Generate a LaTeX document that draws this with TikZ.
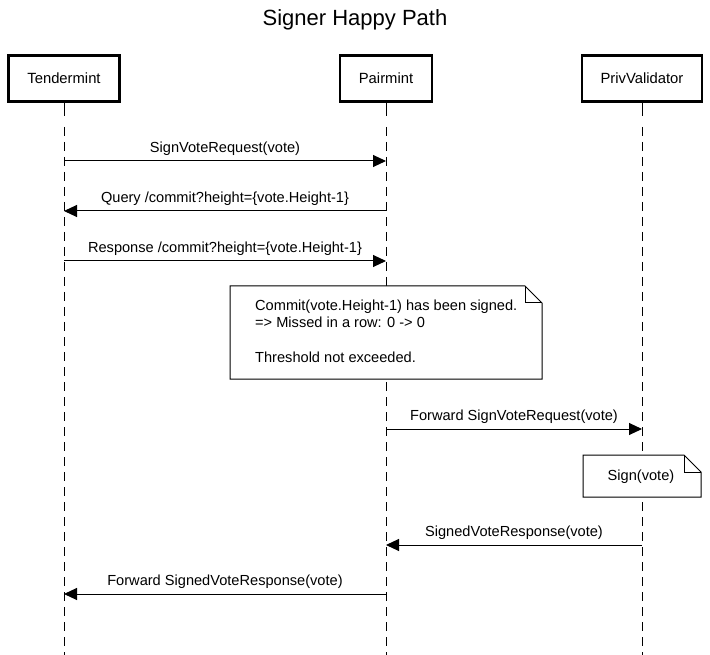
\documentclass[tikz,border=0pt]{standalone}
\usepackage{fontspec}
\setmainfont{Liberation Sans}
\usetikzlibrary{arrows.meta,calc}
\begin{document}
\begin{tikzpicture}[x=1pt,y=-1pt,
  actor/.style={draw,line width=2.6pt,minimum height=46pt,inner sep=0pt,font=\fontsize{14.8}{17}\selectfont},
  life/.style={line width=1pt,dash pattern=on 9pt off 6pt},
  lifesolid/.style={line width=1pt},
  msg/.style={line width=1pt,-{Triangle[length=13pt,width=12pt]}},
  lbl/.style={font=\fontsize{14.6}{17}\selectfont,inner sep=0pt,anchor=base},
  notebox/.style={line width=1pt,fill=white},
  notetext/.style={font=\fontsize{14.6}{17.5}\selectfont,inner sep=0pt,align=left}
]
\useasboundingbox (0,0) rectangle (710,655);
\node[font=\fontsize{22}{26}\selectfont] (title) at (355,20) {Signer Happy Path};

\node[actor,minimum width=111pt] (T) at (64,78.5) {Tendermint};
\node[actor,minimum width=92pt] (P) at (386,78.5) {Pairmint};
\node[actor,minimum width=120pt] (V) at (642,78.5) {PrivValidator};

\coordinate (Ts) at (64,116); \coordinate (Tb) at (64,655);
\coordinate (Ps) at (386,116); \coordinate (Pb) at (386,655);
\coordinate (Vs) at (642,116); \coordinate (Vb) at (642,655);
\draw[lifesolid] (T.south) -- (Ts);
\draw[lifesolid] (P.south) -- (Ps);
\draw[lifesolid] (V.south) -- (Vs);
\draw[life] ($(Ts)+(0,11)$) -- (Tb);
\draw[life] ($(Ps)+(0,11)$) -- (Pb);
\draw[life] ($(Vs)+(0,11)$) -- (Vb);

% messages
\coordinate (m1a) at (64,161); \coordinate (m1b) at (386,161);
\draw[msg] (m1a) -- node[lbl,above=5pt] {SignVoteRequest(vote)} (m1b);
\coordinate (m2a) at (386,211); \coordinate (m2b) at (64,211);
\draw[msg] (m2a) -- node[lbl,above=5pt] {Query /commit?height=\{vote.Height-1\}} (m2b);
\coordinate (m3a) at (64,261); \coordinate (m3b) at (386,261);
\draw[msg] (m3a) -- node[lbl,above=5pt] {Response /commit?height=\{vote.Height-1\}} (m3b);

% note 1
\draw[notebox] (230,286) -- (525,286) -- (542,303) -- (542,379) -- (230,379) -- cycle;
\draw[line width=1pt] (525,286) -- (525,303) -- (542,303);
\node[notetext,anchor=north west] (n1) at (255,299.5) {Commit(vote.Height-1) has been signed.\\=> Missed in a row: 0 -> 0\\[17.5pt]Threshold not exceeded.};

\coordinate (m4a) at (386,429); \coordinate (m4b) at (642,429);
\draw[msg] (m4a) -- node[lbl,above=5pt] {Forward SignVoteRequest(vote)} (m4b);

% note 2
\draw[notebox] (583,455) -- (684,455) -- (701,472) -- (701,497) -- (583,497) -- cycle;
\draw[line width=1pt] (684,455) -- (684,472) -- (701,472);
\node[notetext] (n2) at (641,476.5) {Sign(vote)};

\coordinate (m5a) at (642,545); \coordinate (m5b) at (386,545);
\draw[msg] (m5a) -- node[lbl,above=5pt] {SignedVoteResponse(vote)} (m5b);
\coordinate (m6a) at (386,594); \coordinate (m6b) at (64,594);
\draw[msg] (m6a) -- node[lbl,above=5pt] {Forward SignedVoteResponse(vote)} (m6b);
\end{tikzpicture}
\end{document}
